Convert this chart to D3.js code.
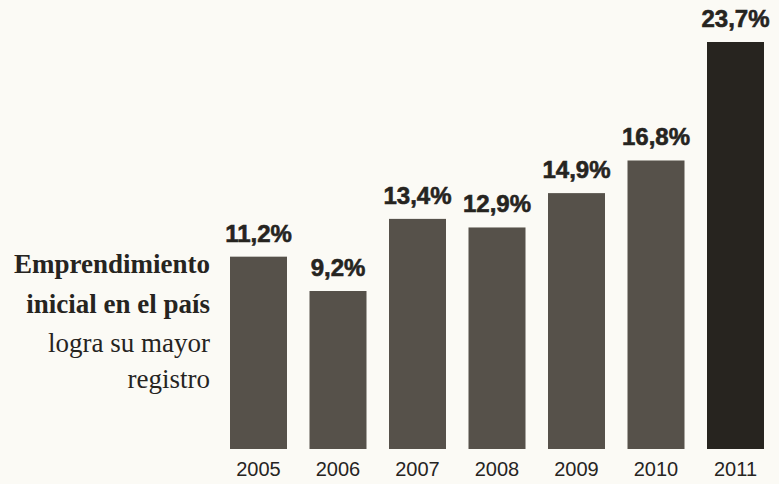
<html>
<head>
    <style>
        body {
            margin: 0;
            background-color: #fbfaf5;
        }
    </style>
    <script src="https://cdn.jsdelivr.net/npm/d3@7"></script>
</head>
<body>
    <svg id="chart"></svg>
    <script>
    // values
    let years = ["2005", "2006", "2007", "2008", "2009", "2010", "2011"]
    let values = [11.2, 9.2, 13.4, 12.9, 14.9, 16.8, 23.7]
    let valueLabels = ["11,2%", "9,2%", "13,4%", "12,9%", "14,9%", "16,8%", "23,7%"]
    let titleLines = ["Emprendimiento", "inicial en el país", "logra su mayor", "registro"]

    let width = 779
    let height = 484
    let baseline = 449

    let svg = d3.select("#chart")
        .attr("width", width)
        .attr("height", height)

    let x = d3.scaleBand()
        .domain(years)
        .range([230, 764])
        .paddingInner(0.283)
        .paddingOuter(0)

    let y = d3.scaleLinear()
        .domain([0, 23.7])
        .range([baseline, 42])

    let data = years.map((d, i) => ({year: d, value: values[i], label: valueLabels[i]}))

    svg.selectAll("rect.bar").data(data)
        .enter().append("rect")
        .attr("class", "bar")
        .attr("x", d => x(d.year))
        .attr("y", d => y(d.value))
        .attr("width", x.bandwidth())
        .attr("height", d => baseline - y(d.value))
        .attr("fill", d => d.year == "2011" ? "#27241f" : "#56514a")

    // value labels above the bars
    svg.selectAll("text.value").data(data)
        .enter().append("text")
        .attr("class", "value")
        .attr("x", d => x(d.year) + x.bandwidth() / 2)
        .attr("y", d => y(d.value) - 15)
        .attr("text-anchor", "middle")
        .attr("font-family", "Liberation Sans Narrow, Arial Narrow, sans-serif")
        .attr("font-weight", "bold")
        .attr("font-size", 24)
        .attr("stroke", "#26241f")
        .attr("stroke-width", 0.6)
        .attr("fill", "#26241f")
        .text(d => d.label)

    // year axis, no line
    let axis = svg.append("g")
        .attr("transform", `translate(0, ${baseline})`)
        .call(d3.axisBottom(x).tickSize(0).tickPadding(13))
    axis.select(".domain").remove()
    axis.selectAll("text")
        .attr("font-family", "Liberation Sans Narrow, Arial Narrow, sans-serif")
        .attr("font-size", 20)
        .attr("fill", "#26241f")

    // title block on the left, right aligned
    let titleY = [273, 313, 352, 388]
    svg.selectAll("text.title").data(titleLines)
        .enter().append("text")
        .attr("class", "title")
        .attr("x", 210)
        .attr("y", (d, i) => titleY[i])
        .attr("text-anchor", "end")
        .attr("font-family", "Liberation Serif, Times New Roman, serif")
        .attr("font-weight", (d, i) => i < 2 ? "bold" : "normal")
        .attr("font-size", 27)
        .attr("fill", "#26241f")
        .text(d => d)
    </script>
</body>
</html>
